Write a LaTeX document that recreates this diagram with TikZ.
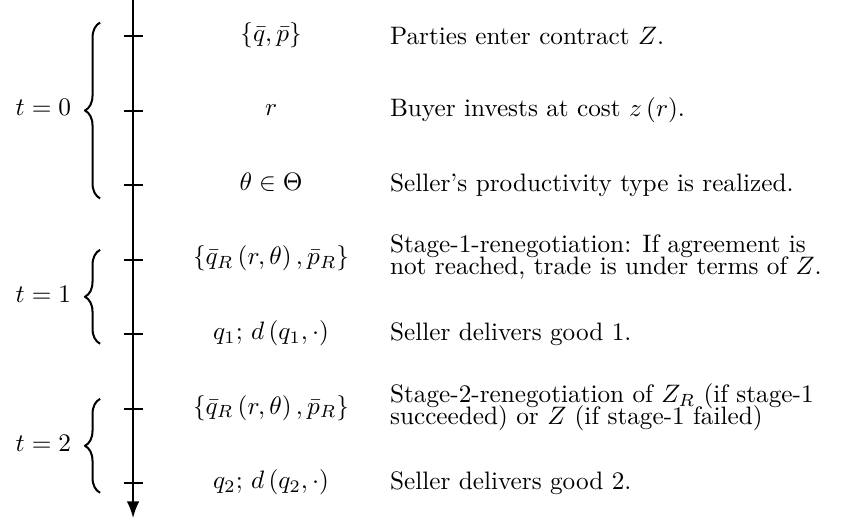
\documentclass[tikz,border=0pt]{standalone}
\usetikzlibrary{arrows.meta,decorations.pathreplacing}
\begin{document}
\begin{tikzpicture}[x=0.971cm, y=-1.038cm, line join=round, >={Latex}, thick,
		evt/.style={anchor=mid},
		desc/.style={anchor=west, inner sep=0pt, align=left},
		twoline/.style={desc, anchor=north west, yshift=10.3pt},
		period/.style={decorate, decoration={brace, amplitude=6pt}},
		plabel/.style={anchor=mid east, inner sep=0pt}]
	\useasboundingbox (-1.909,-0.483) rectangle (10.30,6.564);
	\draw[->] (0,-0.6) -- (0,6.47);
	\foreach \k in {0,...,6}{\draw (-0.137,\k) -- (0.137,\k);};
	% events on the time line
	\node[evt] (m0) at (1.98,0) {$\{\bar{q},\bar{p}\}$};
	\node[evt] (m1) at (1.98,1) {$r$};
	\node[evt] (m2) at (1.98,2) {$\theta\in\Theta$};
	\node[evt] (m3) at (1.98,3) {$\{\bar{q}_R\left(r,\theta\right),\bar{p}_R\}$};
	\node[evt] (m4) at (1.98,4) {$q_1$; $d\left(q_1,\cdot\right)$};
	\node[evt] (m5) at (1.98,5) {$\{\bar{q}_R\left(r,\theta\right),\bar{p}_R\}$};
	\node[evt] (m6) at (1.98,6) {$q_2$; $d\left(q_2,\cdot\right)$};
	% descriptions
	\node[desc] (d0) at (3.673,0) {Parties enter contract $Z$.};
	\node[desc] (d1) at (3.673,1) {Buyer invests at cost $z\left(r\right)$.};
	\node[desc] (d2) at (3.673,2) {Seller's productivity type is realized.};
	\node[twoline] (d3) at (3.673,3) {Stage-1-renegotiation: If agreement is\\[-3.1pt]not reached, trade is under terms of $Z$.};
	\node[desc] (d4) at (3.673,4) {Seller delivers good 1.};
	\node[twoline] (d5) at (3.673,5) {Stage-2-renegotiation of $Z_R$ (if stage-1\\[-3.1pt]succeeded) or $Z$ (if stage-1 failed)};
	\node[desc] (d6) at (3.673,6) {Seller delivers good 2.};
	% periods
	\draw[period] (-0.473,2.18) -- (-0.473,-0.18);
	\draw[period] (-0.473,4.13) -- (-0.473,2.87);
	\draw[period] (-0.473,6.13) -- (-0.473,4.87);
	\node[plabel] (t0) at (-0.875,1) {$t=0$};
	\node[plabel] (t1) at (-0.875,3.5) {$t=1$};
	\node[plabel] (t2) at (-0.875,5.5) {$t=2$};
\end{tikzpicture}
\end{document}
